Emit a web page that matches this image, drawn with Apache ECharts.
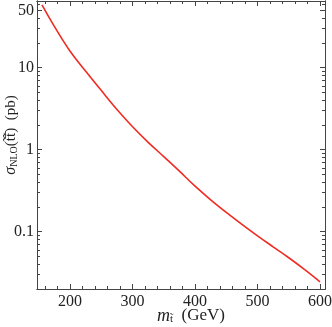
<!DOCTYPE html>
<html>
<head>
<meta charset="utf-8">
<script src="https://cdn.jsdelivr.net/npm/echarts@6/dist/echarts.min.js"></script>
<style>
  html, body { margin: 0; padding: 0; background: #fff; }
  #chart { width: 332px; height: 327px; }
</style>
</head>
<body>
<div id="chart"></div>
<script>
  // stop mass (GeV) and NLO cross section (pb)
  const masses = [155, 175, 200, 225, 250, 275, 300, 325, 350, 375, 400, 425, 450, 475, 500, 525, 550, 575, 600];
  const sigmaNLO = [58.2, 31.6, 15.85, 9.02, 5.25, 3.09, 1.905, 1.23, 0.822, 0.547, 0.359, 0.245, 0.172, 0.123, 0.0891, 0.0653, 0.0481, 0.0347, 0.0245];

  const xRange = [147, 608];
  const yRange = [0.02, 65];
  const xTicks = [200, 300, 400, 500, 600];
  const xMinorTicks = [160, 180, 220, 240, 260, 280, 320, 340, 360, 380, 420, 440, 460, 480, 520, 540, 560, 580];
  const yTicks = [0.1, 1, 10, 50];
  const yMinorTicks = [0.02, 0.03, 0.04, 0.05, 0.06, 0.07, 0.08, 0.09,
    0.2, 0.3, 0.4, 0.5, 0.6, 0.7, 0.8, 0.9, 2, 3, 4, 5, 6, 7, 8, 9, 20, 30, 40, 60];

  const lg = v => Math.log10(v);
  const font = 'Liberation Serif';
  const frameColor = '#444';

  // y is drawn on log10 values, labels turn them back
  const yLo = lg(yRange[0]), yHi = lg(yRange[1]);

  function xAx(pos, ticks, len, labels) {
    return {
      type: 'value', position: pos, min: xRange[0], max: xRange[1],
      axisLine: { show: true, onZero: false, lineStyle: { color: frameColor, width: 1 } },
      axisTick: { show: true, inside: true, length: len, customValues: ticks, lineStyle: { color: frameColor } },
      axisLabel: labels ? { show: true, customValues: ticks, color: '#222', fontFamily: font, fontSize: 16, margin: 5 } : { show: false },
      splitLine: { show: false },
    };
  }
  function yAx(pos, ticks, len, labels) {
    const lt = ticks.map(lg);
    return {
      type: 'value', position: pos, min: yLo, max: yHi,
      axisLine: { show: true, onZero: false, lineStyle: { color: frameColor, width: 1 } },
      axisTick: { show: true, inside: true, length: len, customValues: lt, lineStyle: { color: frameColor } },
      axisLabel: labels ? {
        show: true, customValues: lt, color: '#222', fontFamily: font, fontSize: 16, margin: 3,
        formatter: v => String(Number(Math.pow(10, v).toPrecision(3))),
      } : { show: false },
      splitLine: { show: false },
    };
  }

  const xAxes = [xAx('bottom', xTicks, 5, true), xAx('bottom', xMinorTicks, 3, false),
                 xAx('top', xTicks, 5, false), xAx('top', xMinorTicks, 3, false)];
  Object.assign(xAxes[0], {
    name: '{i|m}{s|t\u0303}  (GeV)',
    nameLocation: 'middle',
    nameGap: 18,
    nameMoveOverlap: false,
    nameTextStyle: {
      fontFamily: font, fontSize: 17, color: '#222', padding: [0, 0, 0, 20],
      verticalAlign: 'top',
      rich: {
        i: { fontFamily: font, fontSize: 18, fontStyle: 'italic', color: '#222' },
        s: { fontFamily: font, fontSize: 11, color: '#222', verticalAlign: 'bottom', padding: [7, 0, 0, 0] },
      },
    },
  });

  const yAxes = [yAx('left', yTicks, 5, true), yAx('left', yMinorTicks, 3, false),
                 yAx('right', yTicks, 5, false), yAx('right', yMinorTicks, 3, false)];
  Object.assign(yAxes[0], {
    name: '{i|\u03c3}{s|NLO}(t\u0303t\u0303\u0305)  (pb)',
    nameLocation: 'middle',
    nameRotate: 90,
    nameGap: 18,
    nameMoveOverlap: false,
    nameTextStyle: {
      fontFamily: font, fontSize: 15, color: '#222', padding: [0, 0, 0, 20],
      rich: {
        i: { fontFamily: font, fontSize: 16, fontStyle: 'italic', color: '#222' },
        s: { fontFamily: font, fontSize: 10, color: '#222', verticalAlign: 'bottom', padding: [5, 0, 0, 0] },
      },
    },
  });

  const chart = echarts.init(document.getElementById('chart'), null, { renderer: 'canvas' });
  chart.setOption({
    animation: false,
    backgroundColor: '#fff',
    grid: { left: 37, right: 7, top: 1, bottom: 38, containLabel: false, outerBoundsMode: 'none' },
    xAxis: xAxes,
    yAxis: yAxes,
    series: [{
      type: 'line',
      xAxisIndex: 0, yAxisIndex: 0,
      data: masses.map((m, i) => [m, lg(sigmaNLO[i])]),
      smooth: 0.4,
      showSymbol: false,
      lineStyle: { color: '#ee2c24', width: 1.6 },
    }],
  });
</script>
</body>
</html>
